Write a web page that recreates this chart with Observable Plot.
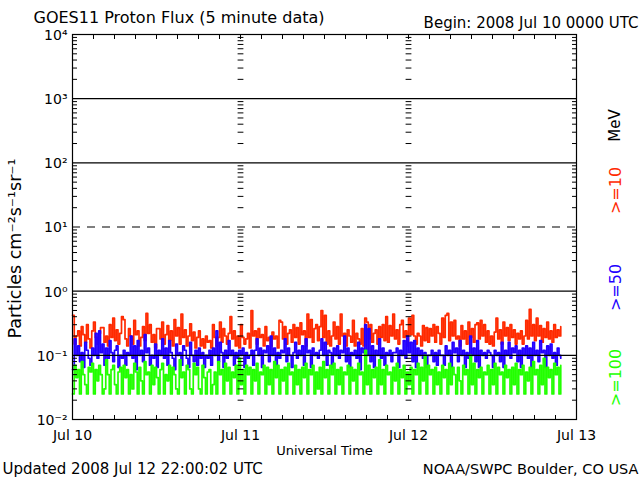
<!DOCTYPE html>
<html>
<head>
<meta charset="utf-8">
<script src="https://cdn.jsdelivr.net/npm/d3@7"></script>
<script src="https://cdn.jsdelivr.net/npm/@observablehq/plot@0.6"></script>
<style>
  body { margin: 0; background: white; }
</style>
</head>
<body>
<div id="chart"></div>
<script>
// ---- Data (5-minute GOES-11 proton flux at ~15-minute resolution) ----
const startTime = "2008-07-10T00:00:00Z";
const stepMinutes = 15;

const flux10 = [ // >=10 MeV (red)
0.42,0.15,0.2,0.24,0.14,0.28,0.21,0.16,0.3,0.18,0.13,0.24,0.33,0.19,0.15,0.22,0.27,0.27,0.16,0.2,
0.14,0.3,0.19,0.38,0.17,0.25,0.15,0.22,0.4,0.36,0.18,0.14,0.26,0.2,0.15,0.35,0.21,0.24,0.14,0.19,
0.28,0.17,0.45,0.22,0.3,0.16,0.21,0.13,0.26,0.26,0.18,0.33,0.15,0.21,0.29,0.17,0.24,0.14,0.36,0.2,
0.27,0.15,0.44,0.19,0.25,0.14,0.2,0.31,0.17,0.23,0.13,0.19,0.24,0.14,0.18,0.13,0.2,0.16,0.17,0.13,
0.3,0.19,0.14,0.19,0.33,0.16,0.26,0.2,0.15,0.22,0.4,0.18,0.24,0.14,0.2,0.13,0.3,0.19,0.15,0.18,
0.22,0.13,0.5,0.2,0.24,0.15,0.26,0.19,0.21,0.14,0.28,0.17,0.19,0.14,0.23,0.18,0.2,0.13,0.35,0.33,
0.18,0.28,0.15,0.22,0.25,0.16,0.3,0.19,0.27,0.15,0.32,0.21,0.24,0.14,0.44,0.19,0.36,0.16,0.26,0.3,
0.17,0.28,0.5,0.19,0.42,0.15,0.24,0.14,0.2,0.33,0.18,0.28,0.15,0.44,0.2,0.22,0.14,0.25,0.2,0.16,
0.35,0.14,0.22,0.18,0.15,0.26,0.14,0.38,0.33,0.18,0.3,0.16,0.22,0.25,0.15,0.28,0.19,0.3,0.17,0.4,
0.16,0.29,0.2,0.44,0.18,0.25,0.15,0.3,0.35,0.19,0.24,0.14,0.38,0.21,0.42,0.2,0.15,0.22,0.2,0.14,
0.29,0.17,0.27,0.16,0.26,0.2,0.3,0.16,0.28,0.22,0.15,0.38,0.19,0.42,0.45,0.17,0.33,0.2,0.35,0.18,
0.2,0.14,0.29,0.18,0.24,0.15,0.33,0.19,0.26,0.16,0.3,0.32,0.18,0.35,0.2,0.3,0.16,0.24,0.15,0.2,
0.14,0.23,0.38,0.18,0.25,0.15,0.33,0.2,0.27,0.17,0.3,0.19,0.25,0.15,0.22,0.18,0.24,0.15,0.2,0.35,
0.18,0.52,0.2,0.3,0.17,0.38,0.2,0.29,0.16,0.26,0.19,0.33,0.18,0.24,0.16,0.3,0.19,0.25,0.2,0.28
];

const flux50 = [ // >=50 MeV (blue)
0.06,0.18,0.1,0.14,0.08,0.11,0.065,0.16,0.12,0.09,0.07,0.13,0.1,0.22,0.09,0.24,0.11,0.15,0.07,0.13,
0.09,0.17,0.11,0.08,0.12,0.14,0.065,0.1,0.09,0.12,0.07,0.11,0.1,0.2,0.09,0.14,0.06,0.17,0.1,0.12,
0.08,0.21,0.11,0.13,0.07,0.1,0.09,0.15,0.065,0.12,0.1,0.18,0.09,0.13,0.07,0.17,0.11,0.09,0.06,0.15,
0.1,0.11,0.07,0.14,0.12,0.09,0.065,0.16,0.1,0.08,0.12,0.07,0.13,0.09,0.11,0.065,0.1,0.09,0.12,0.07,
0.13,0.1,0.24,0.08,0.16,0.11,0.065,0.12,0.09,0.17,0.1,0.12,0.07,0.11,0.09,0.12,0.1,0.13,0.065,0.11,
0.09,0.1,0.12,0.07,0.12,0.18,0.1,0.13,0.065,0.12,0.11,0.14,0.08,0.2,0.1,0.13,0.07,0.11,0.09,0.12,
0.11,0.18,0.08,0.13,0.1,0.065,0.11,0.16,0.09,0.12,0.1,0.14,0.07,0.18,0.11,0.12,0.065,0.13,0.1,0.11,
0.09,0.12,0.18,0.1,0.16,0.07,0.12,0.11,0.065,0.13,0.1,0.14,0.09,0.12,0.11,0.2,0.08,0.13,0.065,0.11,
0.1,0.12,0.09,0.16,0.06,0.13,0.11,0.3,0.1,0.26,0.08,0.14,0.065,0.12,0.1,0.18,0.09,0.13,0.07,0.11,
0.1,0.12,0.08,0.11,0.11,0.13,0.065,0.12,0.1,0.17,0.09,0.2,0.11,0.16,0.08,0.17,0.065,0.13,0.1,0.12,
0.09,0.11,0.065,0.1,0.1,0.12,0.08,0.11,0.07,0.12,0.1,0.1,0.07,0.14,0.1,0.12,0.065,0.16,0.11,0.13,
0.08,0.17,0.1,0.12,0.065,0.11,0.09,0.2,0.1,0.13,0.08,0.17,0.065,0.12,0.1,0.11,0.09,0.12,0.11,0.1,
0.065,0.12,0.1,0.11,0.08,0.16,0.065,0.12,0.1,0.16,0.09,0.13,0.11,0.14,0.08,0.12,0.065,0.13,0.1,0.14,
0.09,0.13,0.065,0.16,0.1,0.12,0.08,0.17,0.11,0.12,0.065,0.14,0.1,0.15,0.09,0.11,0.07,0.13,0.1,0.09
];

const flux100 = [ // >=100 MeV (green)
0.025,0.07,0.045,0.06,0.025,0.08,0.05,0.035,0.025,0.065,0.055,0.075,0.025,0.06,0.04,0.07,0.05,0.025,0.03,0.085,
0.05,0.025,0.06,0.07,0.035,0.025,0.055,0.065,0.025,0.07,0.045,0.06,0.025,0.05,0.03,0.075,0.055,0.025,0.065,0.04,
0.025,0.08,0.05,0.055,0.025,0.07,0.035,0.065,0.045,0.025,0.06,0.075,0.025,0.05,0.04,0.07,0.025,0.065,0.05,0.03,
0.025,0.085,0.045,0.055,0.025,0.07,0.06,0.03,0.025,0.075,0.05,0.065,0.03,0.025,0.07,0.045,0.025,0.055,0.06,0.025,
0.035,0.055,0.025,0.08,0.05,0.06,0.025,0.075,0.04,0.065,0.025,0.055,0.045,0.07,0.025,0.09,0.035,0.06,0.025,0.07,
0.05,0.065,0.025,0.06,0.04,0.075,0.025,0.055,0.05,0.07,0.025,0.065,0.035,0.06,0.025,0.08,0.045,0.07,0.025,0.06,
0.04,0.065,0.025,0.075,0.05,0.055,0.025,0.07,0.035,0.06,0.025,0.065,0.045,0.075,0.025,0.06,0.05,0.07,0.025,0.055,
0.03,0.065,0.025,0.08,0.045,0.06,0.025,0.07,0.05,0.075,0.025,0.06,0.035,0.065,0.025,0.055,0.05,0.07,0.025,0.065,
0.04,0.06,0.025,0.075,0.05,0.055,0.025,0.12,0.035,0.07,0.025,0.06,0.045,0.065,0.025,0.085,0.035,0.06,0.025,0.07,
0.05,0.055,0.025,0.065,0.04,0.075,0.025,0.06,0.045,0.07,0.025,0.055,0.035,0.065,0.025,0.06,0.05,0.075,0.025,0.065,
0.04,0.1,0.025,0.07,0.05,0.06,0.025,0.065,0.035,0.055,0.025,0.07,0.045,0.06,0.025,0.075,0.035,0.065,0.05,0.025,
0.065,0.04,0.025,0.07,0.05,0.06,0.025,0.1,0.035,0.075,0.025,0.06,0.045,0.065,0.025,0.055,0.05,0.07,0.025,0.06,
0.035,0.075,0.025,0.065,0.05,0.055,0.025,0.07,0.045,0.06,0.025,0.065,0.035,0.075,0.025,0.06,0.05,0.07,0.025,0.055,
0.04,0.065,0.025,0.08,0.05,0.06,0.025,0.07,0.035,0.09,0.025,0.065,0.045,0.06,0.025,0.075,0.05,0.065,0.025,0.07
];

const seriesNames = [">=10", ">=50", ">=100"];
const seriesColors = ["#ff2a00", "#2200ff", "#22ff00"];

const yDecades = [1e-2, 1e-1, 1e0, 1e1, 1e2, 1e3, 1e4];
const yTickLabels = ["10\u207B\u00B2", "10\u207B\u00B9", "10\u2070", "10\u00B9", "10\u00B2", "10\u00B3", "10\u2074"];
const solidRules = [1e-1, 1e0, 1e2, 1e3];
const dashedRules = [1e1];

const dayTicks = ["2008-07-10", "2008-07-11", "2008-07-12", "2008-07-13"];
const xTickLabels = ["Jul 10", "Jul 11", "Jul 12", "Jul 13"];

const titleText = "GOES11 Proton Flux (5 minute data)";
const beginText = "Begin: 2008 Jul 10 0000 UTC";
const xLabelText = "Universal Time";
const yLabelText = "Particles cm\u207B\u00B2s\u207B\u00B9sr\u207B\u00B9";
const updatedText = "Updated 2008 Jul 12 22:00:02 UTC";
const creditText = "NOAA/SWPC Boulder, CO USA";

// ---- Build tables ----
const t0 = new Date(startTime).getTime();
const toRows = (vals) => vals.map((v, i) => ({t: new Date(t0 + i * stepMinutes * 60000), v}));
const rows = [toRows(flux10), toRows(flux50), toRows(flux100)];

const dayDates = dayTicks.map(d => new Date(d + "T00:00:00Z"));
const xDomain = [dayDates[0], dayDates[dayDates.length - 1]];
const threeHourTicks = d3.utcHour.every(3).range(dayDates[0], dayDates[3]).slice(1);
const minorY = [];
for (const dec of yDecades.slice(0, -1)) for (let k = 2; k <= 9; k++) minorY.push(dec * k);
const innerDays = dayDates.slice(1, -1);
const dayMinor = [];
for (const d of innerDays) for (const v of minorY) dayMinor.push({t: d, v});

const tickShape = {draw(ctx, l) { ctx.moveTo(0, 0); ctx.lineTo(0, -l); }};

const marginLeft = 72, marginRight = 64, marginTop = 34, marginBottom = 61;
const frameMidY = (marginTop + (480 - marginBottom)) / 2;

const chart = Plot.plot({
  width: 640,
  height: 480,
  marginLeft, marginRight, marginTop, marginBottom,
  style: {fontFamily: "DejaVu Sans", fontSize: "14px", background: "white", color: "black"},
  x: {type: "utc", domain: xDomain},
  y: {type: "log", domain: [1e-2, 1e4]},
  marks: [
    // data
    ...rows.map((r, i) => Plot.line(r, {x: "t", y: "v", stroke: seriesColors[i], strokeWidth: 1.7, curve: "step-after"})),
    // threshold rules
    Plot.ruleY(solidRules, {stroke: "black", strokeWidth: 1.2}),
    Plot.ruleY(dashedRules, {stroke: "black", strokeWidth: 1.2, strokeDasharray: "8,7"}),
    // minor tick columns at day boundaries
    Plot.vector(dayMinor, {x: "t", y: "v", length: 5, rotate: 90, anchor: "middle", shape: tickShape, stroke: "black", strokeWidth: 1}),
    Plot.frame({stroke: "black", strokeWidth: 1.2}),
    // inward ticks
    Plot.axisY({anchor: "left", ticks: minorY, tickSize: -5, fill: "none", label: null}),
    Plot.axisY({anchor: "right", ticks: minorY, tickSize: -5, fill: "none", label: null}),
    Plot.axisX({anchor: "bottom", ticks: threeHourTicks, tickSize: -4, fill: "none", label: null}),
    Plot.axisX({anchor: "top", ticks: threeHourTicks, tickSize: -4, fill: "none", label: null}),
    // tick labels
    Plot.text(yDecades, {frameAnchor: "left", y: d => d, text: (d, i) => yTickLabels[i], dx: -5, dy: 1, textAnchor: "end", lineAnchor: "middle", fontSize: 14}),
    Plot.axisX({anchor: "bottom", ticks: dayDates, tickSize: 0, tickPadding: 11, tickFormat: (d, i) => xTickLabels[i], fontSize: 14, label: null}),
    // titles and annotations
    Plot.text([titleText], {frameAnchor: "top-left", dx: 33 - marginLeft, dy: -17, textAnchor: "start", lineAnchor: "middle", fontSize: 16}),
    Plot.text([beginText], {frameAnchor: "top-right", dx: 62, dy: -11, textAnchor: "end", lineAnchor: "middle", fontSize: 15}),
    Plot.text([xLabelText], {frameAnchor: "bottom", dy: 31, textAnchor: "middle", lineAnchor: "middle", fontSize: 13}),
    Plot.text([yLabelText], {frameAnchor: "left", dx: 15 - marginLeft, dy: 248 - frameMidY, rotate: -90, textAnchor: "middle", lineAnchor: "middle", fontSize: 17.5}),
    Plot.text([updatedText], {frameAnchor: "bottom-left", dx: 2 - marginLeft, dy: 50, textAnchor: "start", lineAnchor: "middle", fontSize: 15}),
    Plot.text([creditText], {frameAnchor: "bottom-right", dx: 62, dy: 50, textAnchor: "end", lineAnchor: "middle", fontSize: 14.5}),
    Plot.text(["MeV"], {frameAnchor: "right", dx: 39, dy: 125 - frameMidY, rotate: -90, textAnchor: "middle", lineAnchor: "middle", fontSize: 15, fill: "black"}),
    ...seriesNames.map((n, i) => Plot.text([n], {frameAnchor: "right", dx: 39, dy: [190, 287, 377][i] - frameMidY, rotate: -90, textAnchor: "middle", lineAnchor: "middle", fontSize: 16, fill: seriesColors[i]}))
  ]
});
document.getElementById("chart").appendChild(chart);
</script>
</body>
</html>
